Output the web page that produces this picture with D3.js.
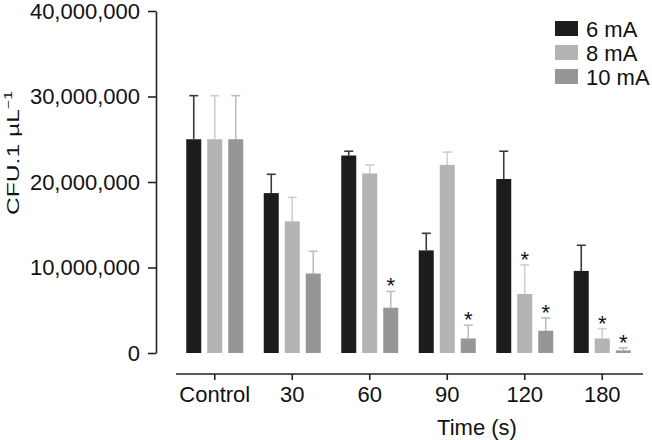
<!DOCTYPE html>
<html><head><meta charset="utf-8">
<script src="https://cdn.jsdelivr.net/npm/d3@7"></script>
<style>body{margin:0;background:#fff}svg{display:block;font-family:"Liberation Sans",Arial,sans-serif}</style>
</head><body>
<svg id="c" width="652" height="440"></svg>
<script>
const categories = ["Control","30","60","90","120","180"];
const series = ["6 mA","8 mA","10 mA"];
const mean6  = [25.0e6, 18.7e6, 23.1e6, 12.0e6, 20.35e6, 9.6e6];
const sd6    = [5.1e6, 2.2e6, 0.5e6, 2.0e6, 3.25e6, 3.0e6];
const mean8  = [25.0e6, 15.4e6, 21.0e6, 22.0e6, 6.9e6, 1.7e6];
const sd8    = [5.1e6, 2.8e6, 1.0e6, 1.5e6, 3.4e6, 1.15e6];
const mean10 = [25.0e6, 9.3e6, 5.3e6, 1.7e6, 2.6e6, 0.3e6];
const sd10   = [5.1e6, 2.6e6, 1.9e6, 1.55e6, 1.5e6, 0.3e6];
const star8  = [false, false, false, false, true, true];
const star10 = [false, false, true, true, true, true];
const yTicks = [0, 10000000, 20000000, 30000000, 40000000];

const means = [mean6, mean8, mean10];
const sds = [sd6, sd8, sd10];
const stars = [[false,false,false,false,false,false], star8, star10];
const fills = ["#1c1c1c", "#b4b4b4", "#969696"];
const errCols = ["#3a3a3a", "#cfcfcf", "#bdbdbd"];
const FS = 22;

const svg = d3.select("#c");
const y = d3.scaleLinear().domain([0, 40000000]).range([353, 11]);
const x = d3.scaleBand().domain(categories).range([176, 641]);
const xi = d3.scaleBand().domain(series).range([-31.5, 31.5]).paddingInner(6/21).paddingOuter(3/21);

// y axis
const ya = svg.append("g").attr("transform", "translate(156,0)")
  .call(d3.axisLeft(y).tickValues(yTicks).tickFormat(d3.format(",")).tickSize(8).tickSizeOuter(0).tickPadding(8));
ya.select(".domain").attr("stroke", "#222").attr("stroke-width", 1.6);
ya.selectAll(".tick line").attr("stroke", "#222").attr("stroke-width", 1.6);
ya.selectAll(".tick text").attr("font-size", FS).attr("fill", "#111").attr("font-family", "Liberation Sans, Arial, sans-serif");

// x axis
const xa = svg.append("g").attr("transform", "translate(0,374)")
  .call(d3.axisBottom(x).tickSize(6).tickSizeOuter(0).tickPadding(6));
xa.select(".domain").attr("d", "M176,0H643").attr("stroke", "#222").attr("stroke-width", 1.6);
xa.selectAll(".tick line").attr("stroke", "#222").attr("stroke-width", 1.6);
xa.selectAll(".tick text").attr("font-size", FS).attr("fill", "#111").attr("font-family", "Liberation Sans, Arial, sans-serif");

// bars
series.forEach((s, si) => {
  const g = svg.append("g");
  categories.forEach((c, ci) => {
    const m = means[si][ci], e = sds[si][ci];
    const bx = x(c) + x.bandwidth() / 2 + xi(s);
    const cx = bx + xi.bandwidth() / 2;
    g.append("line").attr("x1", cx).attr("x2", cx).attr("y1", y(m)).attr("y2", y(m + e))
      .attr("stroke", errCols[si]).attr("stroke-width", 1.6);
    g.append("line").attr("x1", cx - 4.5).attr("x2", cx + 4.5).attr("y1", y(m + e)).attr("y2", y(m + e))
      .attr("stroke", errCols[si]).attr("stroke-width", 1.6);
    g.append("rect").attr("x", bx).attr("width", xi.bandwidth())
      .attr("y", y(m)).attr("height", y(0) - y(m)).attr("fill", fills[si]);
    if (stars[si][ci]) {
      g.append("text").attr("x", cx).attr("y", y(m + e) + 2).attr("text-anchor", "middle")
        .attr("font-size", FS).attr("fill", "#111").text("*");
    }
  });
});

// axis titles
svg.append("text").attr("x", 477).attr("y", 435).attr("text-anchor", "middle")
  .attr("font-size", FS).attr("fill", "#111").text("Time (s)");
svg.append("text").attr("transform", "translate(19,153) rotate(-90) scale(1.45,1)").attr("text-anchor", "middle")
  .attr("font-size", 17).attr("fill", "#111")
  .html('CFU.1 µL<tspan dy="-7" font-size="11">−1</tspan>');

// legend
const lg = svg.append("g");
series.forEach((s, si) => {
  lg.append("rect").attr("x", 555).attr("y", 21 + si * 24).attr("width", 23).attr("height", 15).attr("fill", fills[si]);
  lg.append("text").attr("x", 586).attr("y", 37 + si * 24).attr("font-size", FS).attr("fill", "#111").text(s);
});
</script>
</body></html>
